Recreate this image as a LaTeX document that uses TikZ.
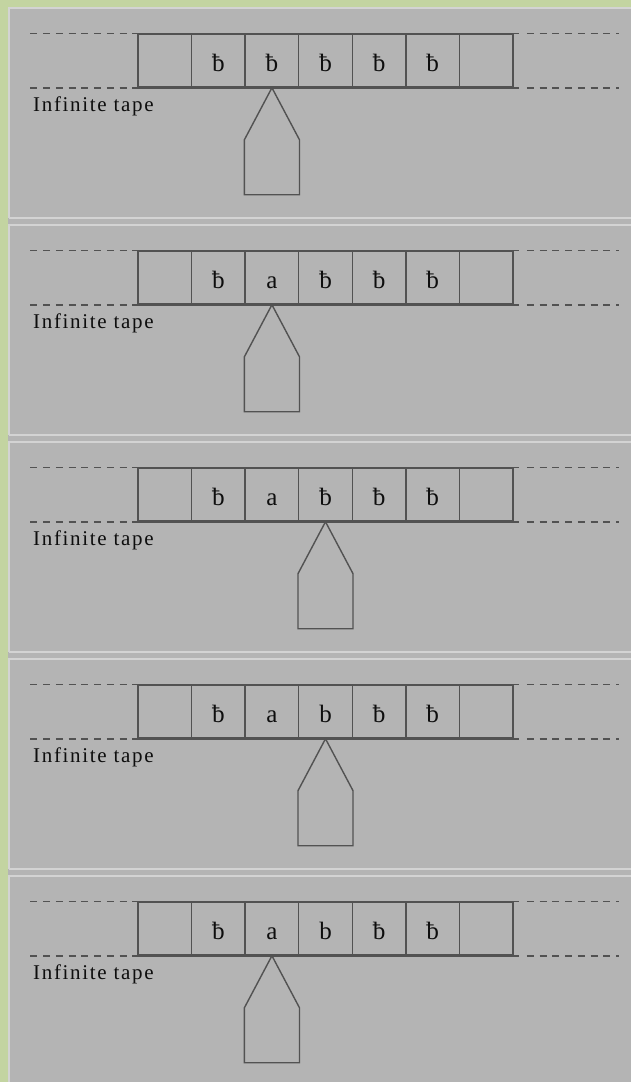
\documentclass[tikz,border=0pt]{standalone}
\usepackage{fontspec}
\setmainfont{Liberation Serif}
\newfontfamily\labelfont[LetterSpace=8]{Liberation Serif}
\usetikzlibrary{calc}

\definecolor{frameGreen}{HTML}{C3D4A1}
\definecolor{panelGray}{HTML}{B4B4B4}
\definecolor{panelLight}{HTML}{D3D3D3}
\definecolor{inkGray}{HTML}{525252}
\definecolor{textInk}{HTML}{0E0E0E}

\tikzset{
  cell/.style={draw=inkGray, line width=1.5pt, minimum width=53.57pt,
    minimum height=53pt, inner sep=0pt, text height=21pt, text depth=0pt,
    font=\fontsize{25}{25}\selectfont, text=textInk},
  tapeedge/.style={draw=inkGray, line width=1.5pt},
  tapedash/.style={draw=inkGray, line width=1.5pt, dash pattern=on 7pt off 5.75pt},
  headshape/.style={draw=inkGray, line width=1.4pt, line join=miter},
  tapelabel/.style={anchor=base west, inner sep=0pt, text=textInk,
    font=\labelfont\fontsize{21}{21}\selectfont},
  panelrim/.style={draw=panelLight, line width=2pt},
}

% One panel: #1 = index, #2..#8 = the seven tape cells, #9 = head cell
\newcommand\tmpanel[9]{%
  \begin{scope}[shift={(0,{217*#1})}]
    \draw[panelrim] (8.5,218) -- (8.5,8) -- (631,8);
    \draw[panelrim] (8.5,218) -- (631,218);
    \node[cell] (t#1c1) at (164.79,60.5) {#2};
    \node[cell] (t#1c2) at (218.36,60.5) {#3};
    \node[cell] (t#1c3) at (271.93,60.5) {#4};
    \node[cell] (t#1c4) at (325.50,60.5) {#5};
    \node[cell] (t#1c5) at (379.07,60.5) {#6};
    \node[cell] (t#1c6) at (432.64,60.5) {#7};
    \node[cell] (t#1c7) at (486.21,60.5) {#8};
    % solid tape edges run a little past the end cells
    \draw[tapeedge] ([xshift=-5pt]t#1c1.north west) -- ([xshift=5pt]t#1c7.north east);
    \draw[tapeedge] ([xshift=-5pt]t#1c1.south west) -- ([xshift=5pt]t#1c7.south east);
    % dashed continuation of the infinite tape
    \coordinate (t#1lt) at ([xshift=-107pt]t#1c1.north west);
    \coordinate (t#1lb) at ([xshift=-107pt]t#1c1.south west);
    \coordinate (t#1rt) at ([xshift=105pt]t#1c7.north east);
    \coordinate (t#1rb) at ([xshift=105pt]t#1c7.south east);
    \draw[tapedash] (t#1lt) -- ([xshift=-5pt]t#1c1.north west);
    \draw[tapedash] (t#1lb) -- ([xshift=-5pt]t#1c1.south west);
    \draw[tapedash] ([xshift=13pt]t#1c7.north east) -- (t#1rt);
    \draw[tapedash] ([xshift=13pt]t#1c7.south east) -- (t#1rb);
    \node[tapelabel] (t#1label) at (33,111) {Infinite tape};
    % read/write head under the current cell
    \draw[headshape] (t#1c#9.south)
      -- ([yshift=-52pt]t#1c#9.south east)
      -- ([yshift=-107pt]t#1c#9.south east)
      -- ([yshift=-107pt]t#1c#9.south west)
      -- ([yshift=-52pt]t#1c#9.south west)
      -- cycle;
  \end{scope}}

\begin{document}
\begin{tikzpicture}[x=1pt, y=-1pt]
  \useasboundingbox (0,0) rectangle (631,1082);
  \fill[frameGreen] (0,0) rectangle (631,1082);
  \fill[panelGray] (8,7) rectangle (631,1082);
  \tmpanel{0}{}{ƀ}{ƀ}{ƀ}{ƀ}{ƀ}{}{3}
  \tmpanel{1}{}{ƀ}{a}{ƀ}{ƀ}{ƀ}{}{3}
  \tmpanel{2}{}{ƀ}{a}{ƀ}{ƀ}{ƀ}{}{4}
  \tmpanel{3}{}{ƀ}{a}{b}{ƀ}{ƀ}{}{4}
  \tmpanel{4}{}{ƀ}{a}{b}{ƀ}{ƀ}{}{3}
\end{tikzpicture}
\end{document}
